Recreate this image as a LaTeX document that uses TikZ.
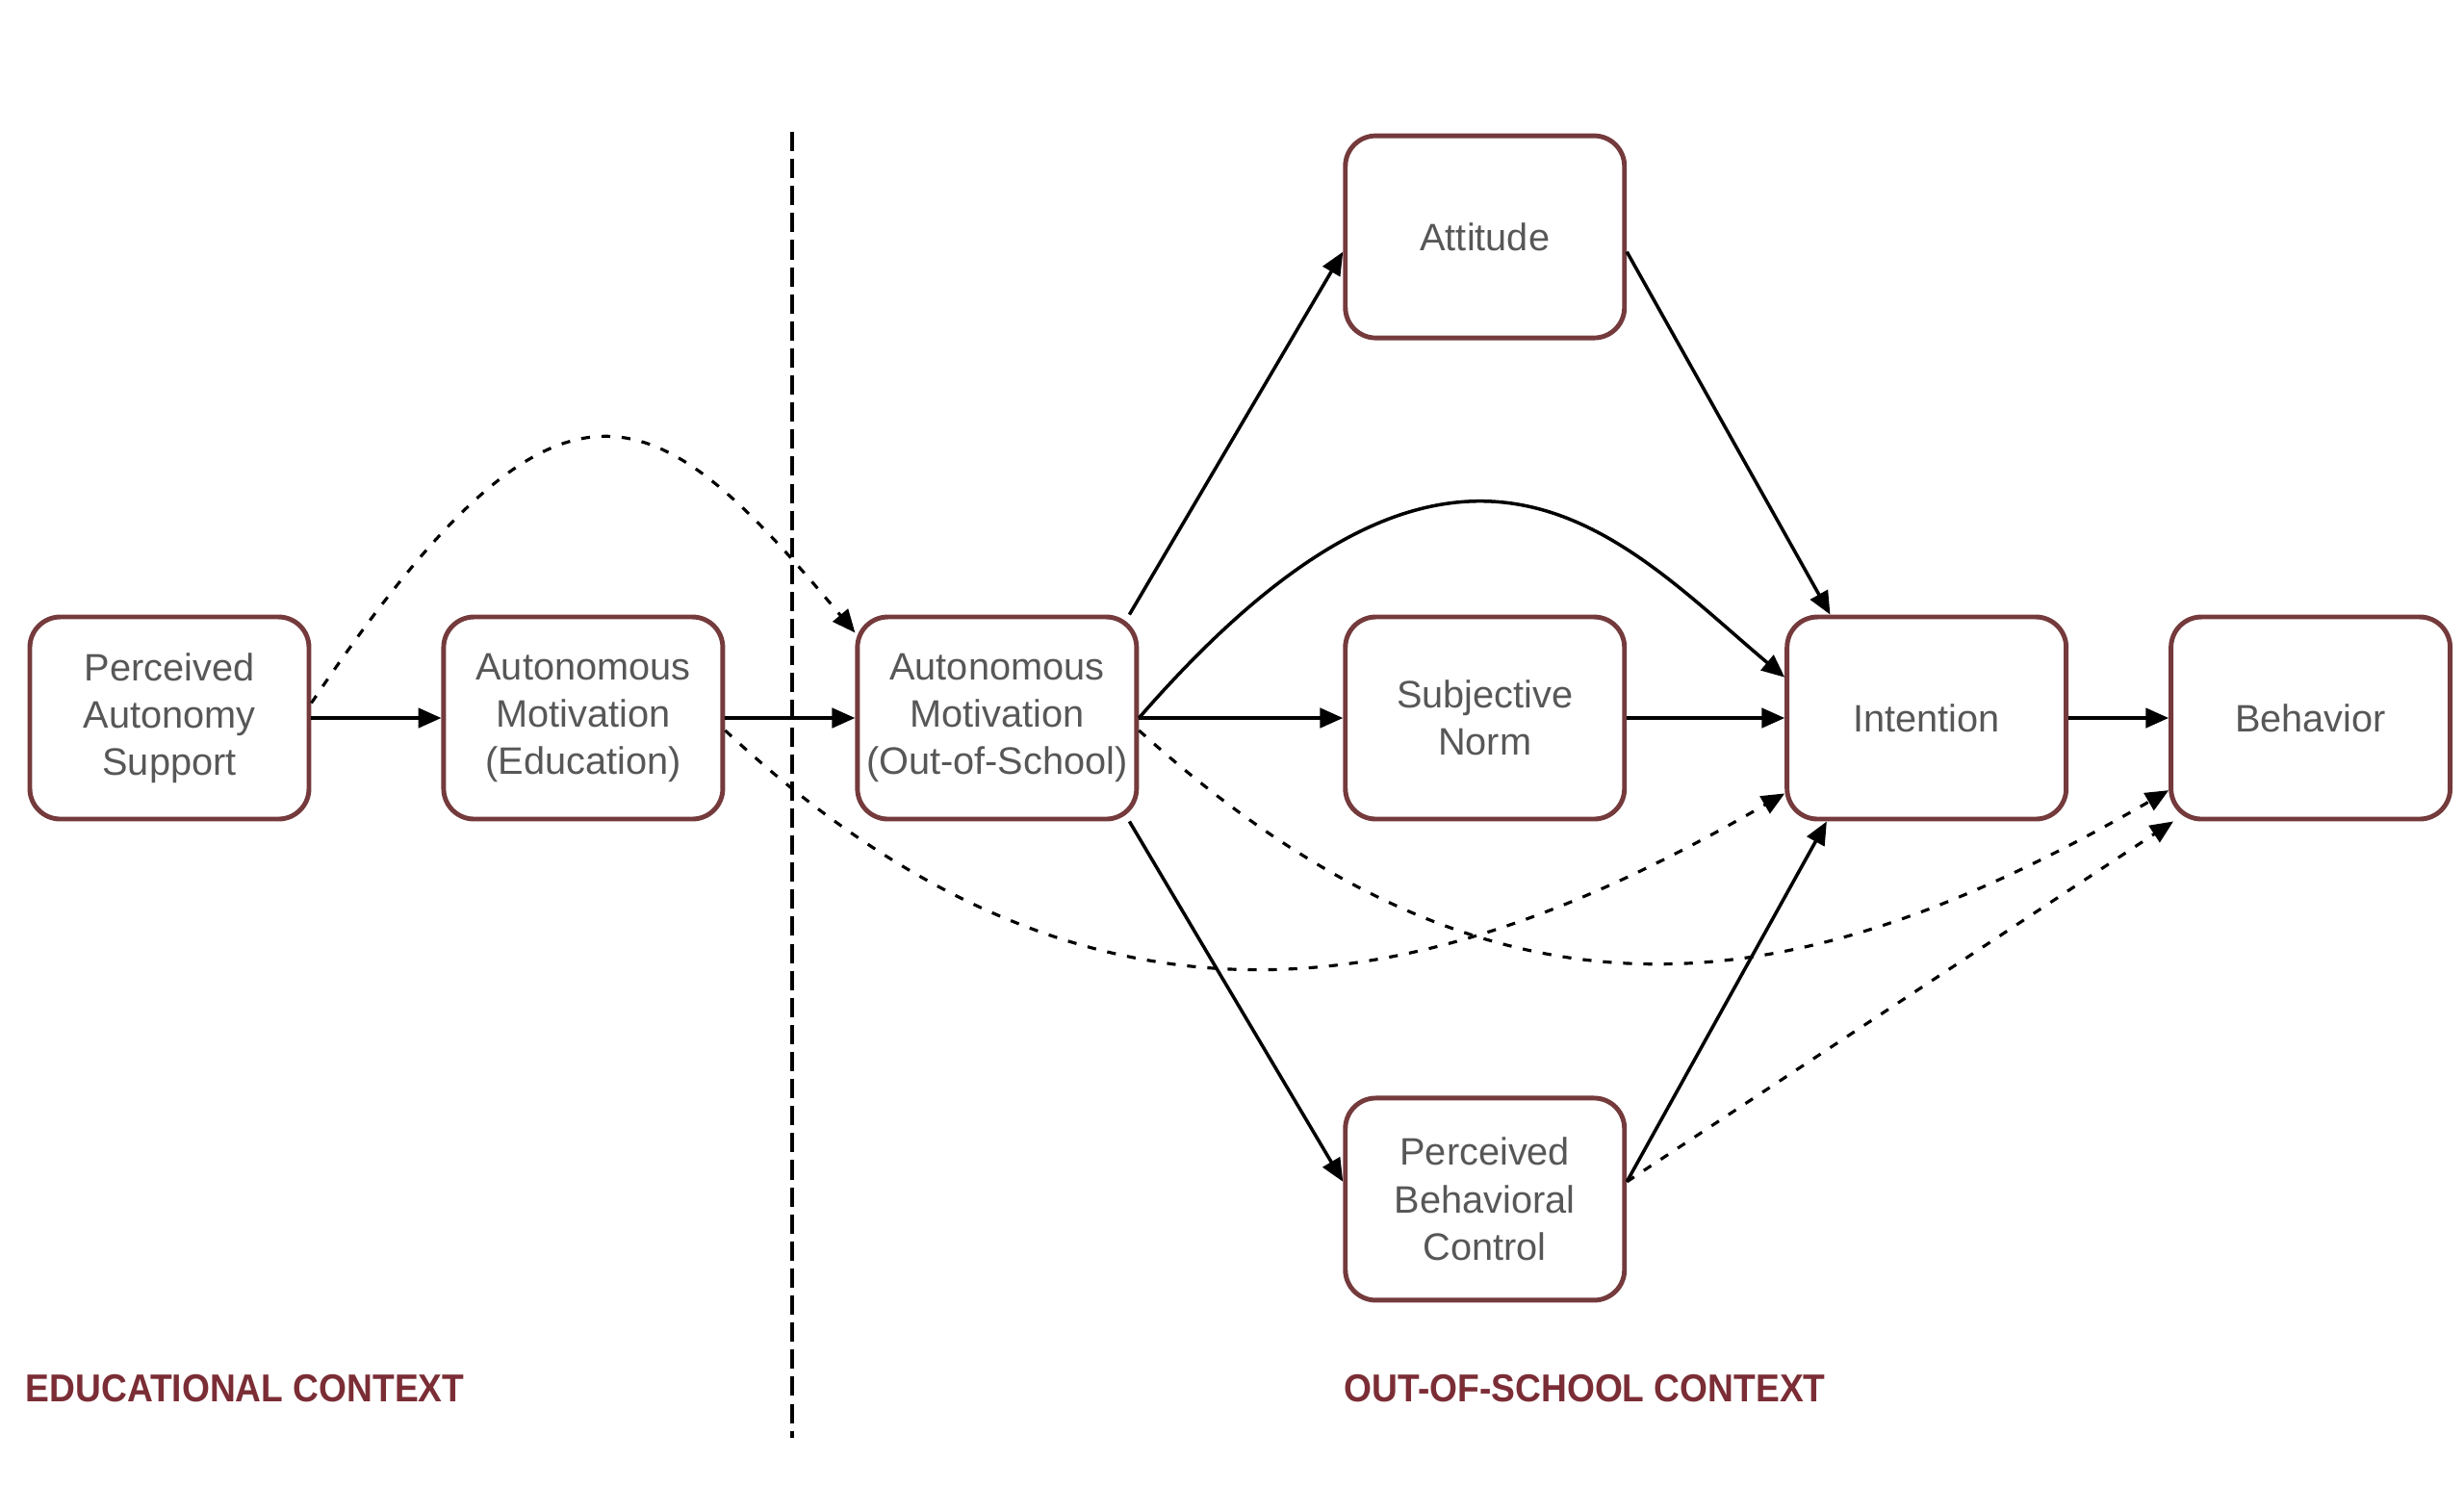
\documentclass[tikz,border=0pt]{standalone}
\usepackage{fontspec}
\setmainfont{Liberation Sans}
\newfontfamily\ctxfont[FakeStretch=0.92]{Liberation Sans}
\usepackage{tikz}
\usetikzlibrary{
  arrows.meta,
  positioning,
}
\definecolor{boxline}{HTML}{743A3C}
\definecolor{ctxred}{HTML}{7B2D35}
\definecolor{boxtext}{HTML}{575757}

\begin{document}
\begin{tikzpicture}[
  box/.style={draw=boxline, line width=1.4pt, rounded corners=9pt, align=center, inner sep=2pt, minimum width=2.9cm, minimum height=2.1cm, text=boxtext, font=\fontsize{11.3}{14}\selectfont},
  ctx/.style={anchor=west, inner sep=0pt, text=ctxred, font=\ctxfont\bfseries\fontsize{11.5}{13}\selectfont},
  link/.style={-{Triangle[length=6.8pt,width=5.8pt]}, line width=1pt},
  dlink/.style={link, line width=0.9pt, dash pattern=on 2.6pt off 3.4pt}
]
\useasboundingbox (0,0) rectangle (25.6,-15.43);
\node[box] (pas) at (1.76,-7.46) {Perceived\\Autonomy\\Support};
\node[box, right=1.35cm of pas] (ame) {Autonomous\\Motivation\\(Education)};
\node[box, right=1.35cm of ame] (amo) {Autonomous\\Motivation\\(Out-of-School)};
\node[box, right=2.12cm of amo] (sn) {Subjective\\Norm};
\node[box, above=2.85cm of sn] (att) {Attitude};
\node[box, below=2.85cm of sn] (pbc) {Perceived\\Behavioral\\Control};
\node[box, right=1.64cm of sn] (int) {Intention};
\node[box, right=1.04cm of int] (beh) {Behavior};
\draw[line width=1.2pt, dash pattern=on 5.7pt off 2.3pt] (8.23,-1.37) -- (8.23,-14.94);
\draw[link] (pas) -- (ame);
\draw[link] (ame) -- (amo);
\draw[link] (amo) -- (sn);
\draw[link] (sn) -- (int);
\draw[link] (int) -- (beh);
\draw[link] (amo.38) -- (att.186);
\draw[link] (amo.-38) -- (pbc.173);
\draw[link] (att.-6) -- (int.133);
\draw[link] (pbc.7) -- (int.226);
\draw[link] (amo.east) to[out=49, in=140, out looseness=1.95, in looseness=0.85] (int.164);
\draw[dlink] (pas.6) to[out=56, in=130, out looseness=2.1, in looseness=1.45] (amo.149);
\draw[dlink] (ame.-5) to[out=-43, in=210, out looseness=1.27, in looseness=0.92] (int.208);
\draw[dlink] (amo.-5) to[out=-42, in=210, out looseness=1.2, in looseness=1.07] (beh.207);
\draw[dlink] (pbc.7) -- (beh.217);
\node[ctx] (educ) at (0.26,-14.43) {EDUCATIONAL CONTEXT};
\node[ctx] (outs) at (13.96,-14.43) {OUT-OF-SCHOOL CONTEXT};
\end{tikzpicture}
\end{document}
